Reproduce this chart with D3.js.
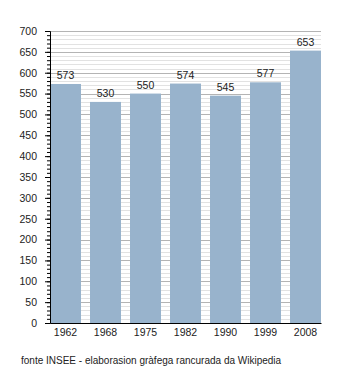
<!DOCTYPE html>
<html>
<head>
<meta charset="utf-8">
<script src="https://cdn.jsdelivr.net/npm/d3@7"></script>
<style>
  body { margin: 0; background: #fff; }
  svg text { font-family: "Liberation Sans", Arial, sans-serif; }
</style>
</head>
<body>
<div id="chart"></div>
<script>
const years = ["1962", "1968", "1975", "1982", "1990", "1999", "2008"];
const population = [573, 530, 550, 574, 545, 577, 653];
const yTicks = [0, 50, 100, 150, 200, 250, 300, 350, 400, 450, 500, 550, 600, 650, 700];
const sourceText = "fonte INSEE - elaborasion gràfega rancurada da Wikipedia";

const width = 350, height = 373;
const margin = { top: 31, right: 29, bottom: 50, left: 50 };
const innerW = width - margin.left - margin.right;
const innerH = height - margin.top - margin.bottom;

const svg = d3.select("#chart").append("svg")
  .attr("width", width)
  .attr("height", height);

const g = svg.append("g")
  .attr("transform", `translate(${margin.left},${margin.top})`);

const x = d3.scaleBand()
  .domain(years)
  .range([0, innerW])
  .paddingInner(0.225)
  .paddingOuter(0);

const y = d3.scaleLinear()
  .domain([0, 700])
  .range([innerH, 0]);

// minor gridlines every 10
g.append("g")
  .selectAll("line")
  .data(d3.range(10, 701, 10).filter(v => v % 50 !== 0))
  .enter().append("line")
  .attr("x1", 0)
  .attr("x2", innerW)
  .attr("y1", d => Math.round(y(d)) + 0.5)
  .attr("y2", d => Math.round(y(d)) + 0.5)
  .attr("stroke", "#e2e2e2")
  .attr("stroke-width", 1);

// major gridlines every 50
g.append("g")
  .selectAll("line")
  .data(yTicks.filter(v => v > 0))
  .enter().append("line")
  .attr("x1", 0)
  .attr("x2", innerW)
  .attr("y1", d => Math.round(y(d)) + 0.5)
  .attr("y2", d => Math.round(y(d)) + 0.5)
  .attr("stroke", "#b4b4b4")
  .attr("stroke-width", 1);

// bars
g.selectAll(".bar")
  .data(population)
  .enter().append("rect")
  .attr("class", "bar")
  .attr("x", (d, i) => x(years[i]))
  .attr("y", d => y(d))
  .attr("width", x.bandwidth())
  .attr("height", d => innerH - y(d))
  .attr("fill", "#98b3cc");

// value labels
g.selectAll(".val")
  .data(population)
  .enter().append("text")
  .attr("class", "val")
  .attr("x", (d, i) => x(years[i]) + x.bandwidth() / 2)
  .attr("y", d => y(d) - 5)
  .attr("text-anchor", "middle")
  .style("font-size", "10.5px")
  .attr("fill", "#222")
  .text(d => d);

// minor ticks
g.append("g")
  .call(d3.axisLeft(y).tickValues(d3.range(0, 701, 10)).tickSize(3).tickFormat(""))
  .call(a => a.select(".domain").remove());

// y axis
g.append("g")
  .call(d3.axisLeft(y).tickValues(yTicks).tickSize(5).tickPadding(8))
  .call(a => a.selectAll("text").style("font-size", "10.5px").attr("fill", "#222"));

// x axis
g.append("g")
  .attr("transform", `translate(0,${innerH})`)
  .call(d3.axisBottom(x).tickSize(0).tickPadding(6))
  .call(a => a.selectAll("text").style("font-size", "10.5px").attr("fill", "#222"))
  .call(a => a.select(".domain").attr("stroke", "#000"));

svg.append("text")
  .attr("x", 21)
  .attr("y", 364)
  .style("font-size", "10px")
  .attr("fill", "#222")
  .text(sourceText);
</script>
</body>
</html>
